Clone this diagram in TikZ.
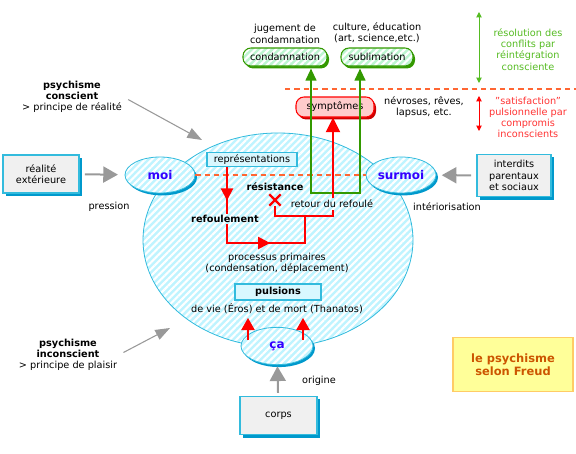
\documentclass[tikz,border=0pt]{standalone}
\usepackage{fontspec}
\setmainfont{DejaVu Sans}
\usepackage{xcolor}
\usepackage{tikz}
\usetikzlibrary{arrows.meta, positioning, shapes.geometric, shapes.misc, shadows, patterns.meta, decorations.markings, calc}
\definecolor{psyCyan}{HTML}{33BBDD}
\definecolor{psyShadow}{HTML}{0099CC}
\definecolor{psyFill}{HTML}{BFF4FF}
\definecolor{psyTag}{HTML}{D9F8FF}
\definecolor{psyGreen}{HTML}{339900}
\definecolor{psyGreenTxt}{HTML}{55BB22}
\definecolor{psyGreenFill}{HTML}{BDF5D0}
\definecolor{psyRed}{HTML}{FF0000}
\definecolor{psyRedTxt}{HTML}{FF3333}
\definecolor{psyPink}{HTML}{FFCCCC}
\definecolor{psyOrange}{HTML}{FF6633}
\definecolor{psyGray}{HTML}{999999}
\definecolor{psyBlue}{HTML}{3300FF}
\definecolor{freudFill}{HTML}{FFFF99}
\definecolor{freudLine}{HTML}{FFCC66}
\definecolor{freudText}{HTML}{CC5500}

\begin{document}
\begin{tikzpicture}[
    x=0.75pt, y=-0.75pt,
    every node/.style={font=\fontsize{7.3}{8.4}\selectfont, inner sep=1pt},
    boldtxt/.style={font=\fontsize{7.3}{8.4}\selectfont\bfseries},
    hatch/.style={
        preaction={fill=#1},
        preaction={pattern={Lines[angle=45,distance=3.6pt,line width=1.6pt]}, pattern color=white}
    },
    soul/.style={
        ellipse, draw=psyCyan, hatch=psyFill,
        line width=0.6pt, inner sep=0pt
    },
    instance/.style={
        drop shadow={shadow xshift=1.5pt, shadow yshift=-1.8pt, fill=psyShadow, opacity=1},
        soul, minimum width=52.5pt, minimum height=27pt,
        font=\fontsize{9}{10}\selectfont\bfseries, text=psyBlue
    },
    extbox/.style={
        rectangle, draw=psyCyan, fill=gray!12, align=center, line width=0.8pt,
        drop shadow={shadow xshift=2.2pt, shadow yshift=-2.2pt, fill=psyShadow, opacity=1}
    },
    tagbox/.style={rectangle, draw=psyCyan, fill=psyTag, line width=0.8pt, minimum height=10pt},
    pill/.style={rectangle, rounded corners=6pt, line width=0.8pt, minimum height=13.5pt, inner xsep=2pt},
    greenpill/.style={
        drop shadow={shadow xshift=1.5pt, shadow yshift=-1.8pt, fill=psyGreen, opacity=1},
        pill, draw=psyGreen, hatch=psyGreenFill
    },
    redpill/.style={
        drop shadow={shadow xshift=1.5pt, shadow yshift=-1.8pt, fill=psyRed!80!black, opacity=1},
        pill, draw=psyRed, fill=psyPink
    },
    grayarrow/.style={-{Triangle[length=11pt,width=12pt]}, draw=psyGray, line width=1.5pt},
    thinarrow/.style={-{Triangle[length=11pt,width=8pt]}, draw=psyGray, line width=0.8pt},
    garrow/.style={{Triangle[length=9pt,width=8pt]}-{Triangle[length=9pt,width=8pt]}, draw=psyGreen, line width=1.5pt},
    rline/.style={draw=psyRed, line width=1.5pt},
    rarrow/.style={rline, -{Triangle[length=11pt,width=10.5pt]}},
    rthin/.style={-{Triangle[length=9pt,width=10pt]}, draw=psyRed, line width=0.8pt},
    midarrow/.style={postaction={decorate, decoration={markings,
        mark=at position #1 with {\arrow{Triangle[length=9pt,width=9pt]}}}}},
    dashline/.style={draw=psyOrange, line width=1pt, dash pattern=on 4pt off 3pt},
    sidearrow/.style={{Triangle[length=4pt,width=4pt]}-{Triangle[length=4pt,width=4pt]}, line width=0.7pt}
]
\useasboundingbox (0,0) rectangle (576,454);

% psyche and its instances
\node[soul, minimum width=202.5pt, minimum height=160.5pt] (psyche) at (278,240) {};
\node[instance] (moi) at (160,175) {moi};
\node[instance] (surmoi) at (401,175) {surmoi};
\node[instance, minimum width=54pt, minimum height=28pt] (ca) at (277,346) {ça};

% outside sources
\node[extbox, minimum width=57pt, minimum height=28.5pt] (realite) at (41,174) {réalité\\extérieure};
\node[extbox, minimum width=55.5pt, minimum height=32pt] (interdits) at (514,175.5) {interdits\\parentaux\\et sociaux};
\node[extbox, minimum width=57.75pt, minimum height=29pt] (corps) at (278.5,415.5) {corps};

\node[rectangle, draw=freudLine, fill=freudFill, line width=0.8pt,
      minimum width=90pt, minimum height=41pt, align=center, text=freudText,
      font=\fontsize{8.6}{10}\selectfont\bfseries] (freud) at (513,364.5) {le psychisme\\selon Freud};

% outcomes
\node[greenpill, minimum width=63pt] (condam) at (285,57) {condamnation};
\node[greenpill, minimum width=54pt] (sublim) at (377,57) {sublimation};
\node[redpill, minimum width=58.5pt, minimum height=15pt] (sympt) at (335,107) {symptômes};

\node[align=center, above=2pt of condam] (jugement) {jugement de\\condamnation};
\node[align=center, above=2pt of sublim] (culture) {culture, éducation\\(art, science,etc.)};
\node[align=center] (nevroses) at (424,107.5) {névroses, rêves,\\lapsus, etc.};
\node[align=center, text=psyGreenTxt] (resolution) at (528,49.5) {résolution des\\conflits par\\réintégration\\consciente};
\node[align=center, text=psyRedTxt] (satisf) at (528,117.5) {"satisfaction"\\pulsionnelle par\\compromis\\inconscients};

% inside the psyche
\node[tagbox, minimum width=67.5pt] (repr) at (252,159.5) {représentations};
\node[tagbox, boldtxt, minimum width=64.5pt, minimum height=12pt] (pulsions) at (278,292) {pulsions};
\node[boldtxt] (resist) at (275,187) {résistance};
\node[boldtxt] (refoul) at (225,219) {refoulement};
\node[cross out, draw=psyRed, line width=1.6pt, minimum size=7pt, inner sep=0pt] (xmark) at (275,200) {};
\node (retour) at (332,204) {retour du refoulé};
\node[align=center] (primaires) at (277,263.5) {processus primaires\\(condensation, déplacement)};
\node (vie) at (277,309) {de vie (Éros) et de mort (Thanatos)};

% side labels
\node[align=center] (conscient) at (72,97) {\textbf{psychisme}\\\textbf{conscient}\\> principe de réalité};
\node[align=center] (inconscient) at (68,355) {\textbf{psychisme}\\\textbf{inconscient}\\> principe de plaisir};
\node (pression) at (109,207) {pression};
\node (interior) at (447,207) {intériorisation};
\node (origine) at (319,381) {origine};

\coordinate (cstip) at (202,140);
\coordinate (icstip) at (170,328);
\coordinate (dashL) at (285,89);
\coordinate (dashR) at (576,89);
\coordinate (gl) at (311,193);
\coordinate (gr) at (360,193);
\coordinate (ret) at (333,216);
\coordinate (junc) at (305,216);
\coordinate (rf) at (227,243);
\coordinate (gtop) at (479,12);
\coordinate (gbot) at (479,83);
\coordinate (rtop) at (479,96);
\coordinate (rbot) at (479,131);

\draw[dashline] (dashL) -- (dashR);
\draw[dashline] (moi.east) -- (surmoi.west);

\draw[grayarrow, shorten <=4pt, shorten >=5pt] (realite) -- (moi);
\draw[grayarrow, shorten <=4pt, shorten >=4pt] (interdits) -- (surmoi);
\draw[grayarrow, shorten <=2pt, shorten >=1pt] (corps) -- (ca);
\draw[thinarrow, shorten <=4pt] (conscient.east) -- (cstip);
\draw[thinarrow, shorten <=4pt] (inconscient.east) -- (icstip);

\draw[garrow, shorten <=1.5pt, shorten >=1.5pt] (condam.south -| gl) -- (gl) -- (gr) -- (sublim.south -| gr);

\draw[rline, midarrow=0.72] (repr.south -| rf) -- (refoul.north -| rf);
\draw[rline, midarrow=0.5] (refoul.south -| rf) -- (rf) -- (junc |- rf) -- (junc);
\draw[rline] (xmark.south) |- (ret) -- (retour.south -| ret);
\draw[rarrow] (retour.north -| ret) -- (sympt.south -| ret);

\draw[rthin] ($(ca)+(-29,-6)$) -- ++(0,-22);
\draw[rthin] ($(ca)+(26,-6)$) -- ++(0,-22);

\draw[sidearrow, draw=psyGreenTxt, fill=psyGreenTxt] (gtop) -- (gbot);
\draw[sidearrow, draw=psyRed, fill=psyRed] (rtop) -- (rbot);

\end{tikzpicture}
\end{document}
